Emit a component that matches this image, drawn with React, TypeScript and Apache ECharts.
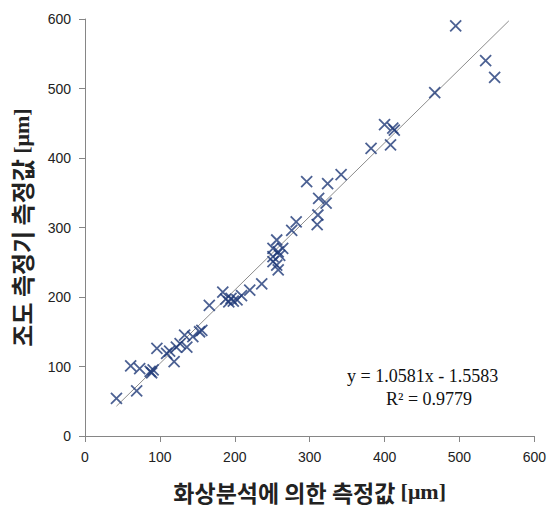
import React, { useEffect, useRef } from "react";
import * as echarts from "echarts";

const xTicks = [0, 100, 200, 300, 400, 500, 600];
const yTicks = [0, 100, 200, 300, 400, 500, 600];

const measurements: [number, number][] = [
  [42, 54], [69, 65], [61, 101], [73, 97], [87, 93], [89, 91], [91, 95],
  [96, 126], [109, 119], [113, 122], [119, 107], [122, 128], [127, 133],
  [133, 145], [136, 128], [144, 143], [153, 150], [156, 152], [166, 188],
  [184, 207], [188, 197], [192, 193], [195, 198], [198, 194], [203, 196],
  [209, 202], [220, 210], [236, 219], [251, 251], [251, 258], [251, 270],
  [256, 282], [256, 246], [258, 239], [258, 265], [260, 260], [264, 270],
  [276, 296], [282, 308], [296, 366], [310, 304], [311, 318], [312, 342],
  [322, 335], [324, 363], [342, 376], [382, 414], [400, 448], [408, 419],
  [411, 443], [413, 440], [467, 494], [495, 590], [535, 540], [547, 516],
];

const slope = 1.0581;
const intercept = -1.5583;
const trendRange = [42, 566];
const equationText = "y = 1.0581x - 1.5583";
const r2Text = "R² = 0.9779";

export default function App() {
  const ref = useRef<HTMLDivElement>(null);
  useEffect(() => {
    if (!ref.current) return;
    const chart = echarts.init(ref.current, null, { renderer: "svg" });
    const trend = trendRange.map((x) => [x, slope * x + intercept]);
    chart.setOption({
      animation: false,
      backgroundColor: "#ffffff",
      grid: { left: 85, right: 14, top: 19, bottom: 73, containLabel: false },
      xAxis: {
        type: "value",
        min: 0,
        max: 600,
        interval: 100,
        axisLine: { show: true, lineStyle: { color: "#868686", width: 1 } },
        axisTick: { show: true, length: 6, lineStyle: { color: "#868686" } },
        splitLine: { show: false },
        axisLabel: {
          margin: 14,
          fontSize: 14,
          color: "#222",
          fontFamily: "Liberation Sans",
          formatter: (v: number) => (xTicks.includes(v) ? String(v) : ""),
        },
        name: "{a|화상분석에 의한 측정값 }{b|[μm]}",
        nameLocation: "middle",
        nameGap: 44,
        nameTextStyle: {
          rich: {
            a: { fontFamily: "Noto Sans CJK KR", fontWeight: "bold", fontSize: 23, color: "#222" },
            b: { fontFamily: "Liberation Serif", fontWeight: "bold", fontSize: 22, color: "#222" },
          },
        },
      },
      yAxis: {
        type: "value",
        min: 0,
        max: 600,
        interval: 100,
        axisLine: { show: true, lineStyle: { color: "#868686", width: 1 } },
        axisTick: { show: true, length: 6, lineStyle: { color: "#868686" } },
        splitLine: { show: false },
        axisLabel: {
          margin: 14,
          fontSize: 14,
          color: "#222",
          fontFamily: "Liberation Sans",
          formatter: (v: number) => (yTicks.includes(v) ? String(v) : ""),
        },
        name: "{a|조도 측정기 측정값 }{b|[μm]}",
        nameLocation: "middle",
        nameRotate: 90,
        nameGap: 52,
        nameTextStyle: {
          rich: {
            a: { fontFamily: "Noto Sans CJK KR", fontWeight: "bold", fontSize: 24, color: "#222" },
            b: { fontFamily: "Liberation Serif", fontWeight: "bold", fontSize: 22, color: "#222" },
          },
        },
      },
      series: [
        {
          type: "line",
          data: trend,
          showSymbol: false,
          symbol: "none",
          lineStyle: { color: "#8c8c8c", width: 1 },
          silent: true,
          z: 1,
        },
        {
          type: "scatter",
          data: measurements,
          symbol: "path://M0,0L10,10M10,0L0,10",
          symbolSize: 11,
          itemStyle: { color: "transparent", borderColor: "#1f3a78", borderWidth: 1.8 },
          z: 2,
        },
      ],
      graphic: [
        {
          type: "text",
          left: 347,
          top: 367,
          style: {
            text: equationText,
            fontFamily: "Liberation Serif",
            fontSize: 18,
            fill: "#111",
          },
        },
        {
          type: "text",
          left: 386,
          top: 390,
          style: {
            text: r2Text,
            fontFamily: "Liberation Serif",
            fontSize: 18,
            fill: "#111",
          },
        },
      ],
    });
    return () => chart.dispose();
  }, []);
  return <div ref={ref} style={{ width: 549, height: 509, position: "absolute", left: 0, top: 0 }} />;
}
